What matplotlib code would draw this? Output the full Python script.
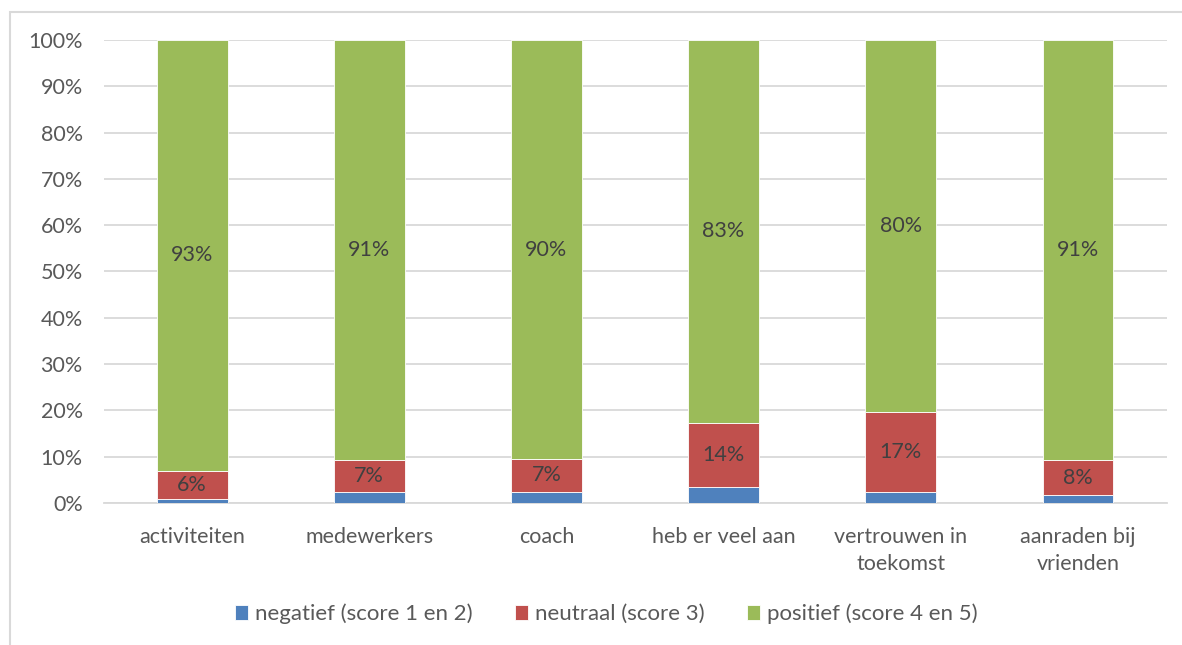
import matplotlib.pyplot as plt
from matplotlib.patches import Rectangle
from matplotlib.ticker import PercentFormatter

categories = ['activiteiten', 'medewerkers', 'coach', 'heb er veel aan',
              'vertrouwen in\ntoekomst', 'aanraden bij\nvrienden']
negatief = [0.9, 2.3, 2.4, 3.5, 2.4, 1.7]
neutraal = [6.1, 7.0, 7.1, 13.8, 17.3, 7.6]
positief = [93.0, 90.7, 90.4, 82.7, 80.3, 90.7]
series_names = ['negatief (score 1 en 2)', 'neutraal (score 3)', 'positief (score 4 en 5)']
colors = ['#4F81BD', '#C0504D', '#9BBB59']

plt.rcParams['font.family'] = ['Lato', 'DejaVu Sans']

fig = plt.figure(figsize=(11.82, 6.45), dpi=100)
ax = fig.add_axes([0.0876, 0.2202, 0.8993, 0.7178])

# caption above the chart frame, mostly cut off by the top edge
fig.text(0.012, 1 + 4 / 645, 'Figuur 3: Resultaten tevredenheidsmeting onder jongeren (2017, jongeren) per vraag',
         fontsize=17, color='black', va='baseline', ha='left')
fig.patches.append(Rectangle((10 / 1182, -0.1), 1.2, 1.1 - 12 / 645, transform=fig.transFigure,
                             fill=False, edgecolor='#D9D9D9', linewidth=1.5))

x = range(len(categories))
bottom = [0] * len(categories)
for vals, name, col in zip([negatief, neutraal, positief], series_names, colors):
    bars = ax.bar(x, vals, width=0.4, bottom=bottom, color=col, label=name,
                  edgecolor='white', linewidth=0.6, zorder=3)
    if name != series_names[0]:
        for b, v, bt in zip(bars, vals, bottom):
            ax.text(b.get_x() + b.get_width() / 2, bt + v / 2, f'{round(v)}%',
                    ha='center', va='center', fontsize=15.5, color='#404040', zorder=4)
    bottom = [a + b for a, b in zip(bottom, vals)]

ax.set_xlim(-0.5, len(categories) - 0.5)
ax.set_ylim(0, 100)
ax.set_yticks(range(0, 101, 10))
ax.yaxis.set_major_formatter(PercentFormatter(decimals=0))
ax.tick_params(axis='y', length=0, pad=15, labelsize=15.5, labelcolor='#595959')
ax.tick_params(axis='x', length=0, pad=17, labelsize=15.5, labelcolor='#595959')
ax.set_xticks(list(x))
ax.set_xticklabels(categories)
for lbl in ax.get_xticklabels():
    lbl.set_linespacing(1.45)
ax.grid(axis='y', color='#D9D9D9', linewidth=1.3, zorder=0)
for s in ['top', 'right', 'left']:
    ax.spines[s].set_visible(False)
ax.spines['bottom'].set_color('#D9D9D9')
ax.spines['bottom'].set_linewidth(1.3)

fig.legend(loc='center', bbox_to_anchor=(0.5127, 1 - 614 / 645), ncol=3, frameon=False,
           fontsize=16, labelcolor='#595959', handlelength=0.6, handleheight=0.6,
           handletextpad=0.3, columnspacing=1.9)

fig.savefig('out.png', dpi=100)
